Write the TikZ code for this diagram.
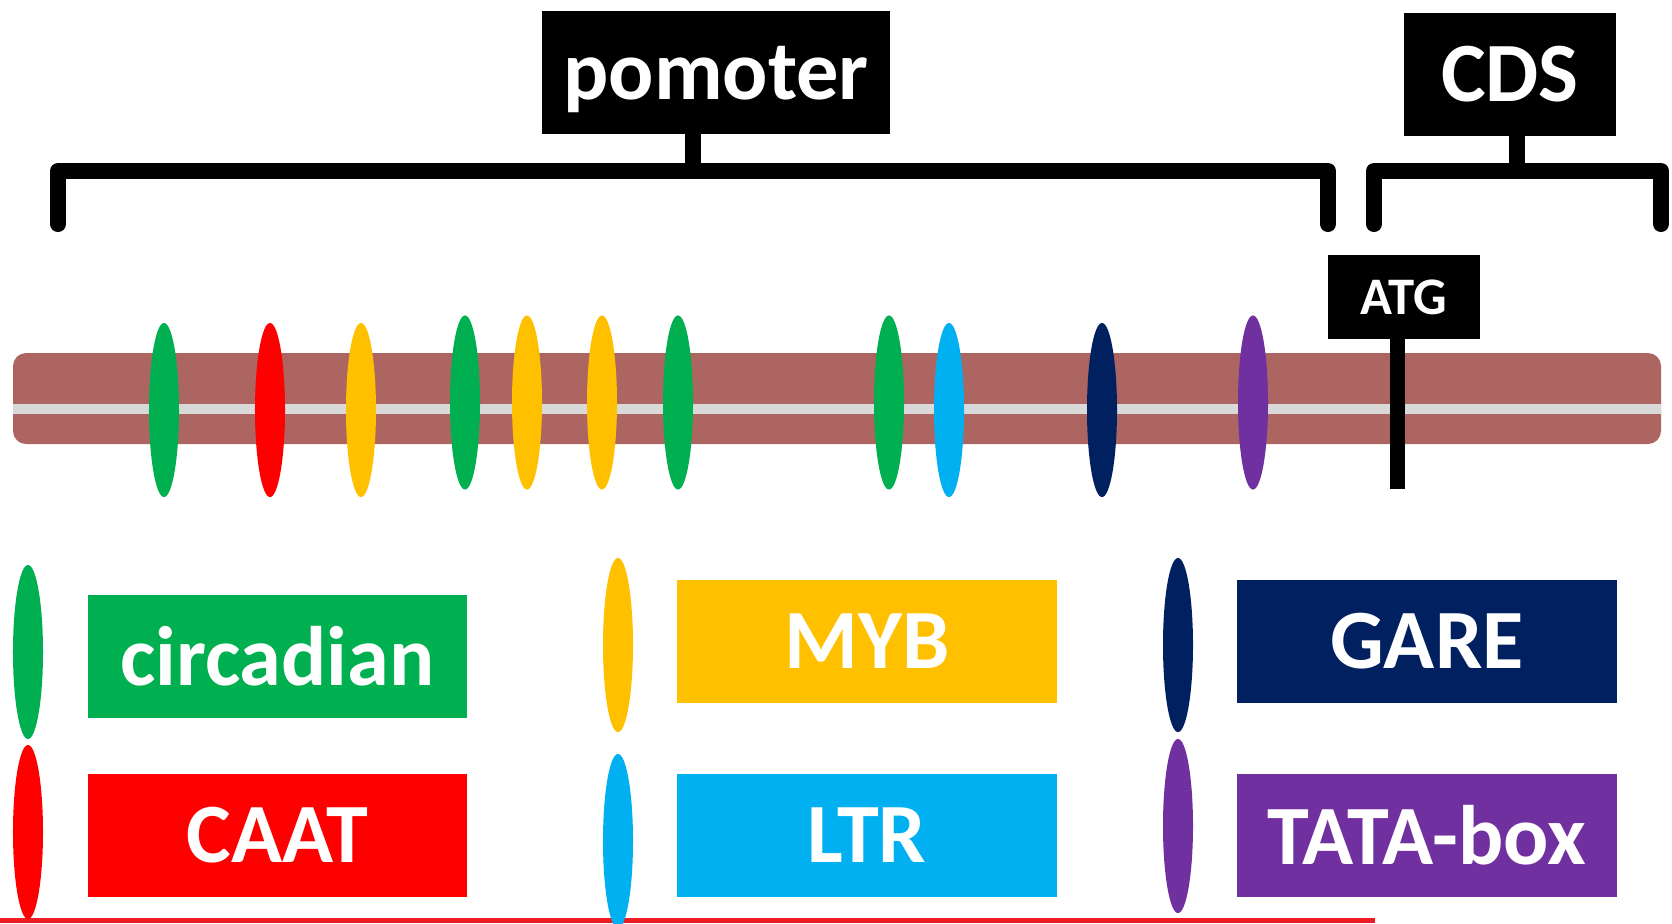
\documentclass[tikz,border=0pt]{standalone}
\usepackage{fontspec}
\setmainfont{Carlito}
\usepackage{tikz}
\usetikzlibrary{shapes.geometric}
\usepackage{xcolor}
\definecolor{xgreen}{HTML}{00B050}
\definecolor{xred}{HTML}{FF0000}
\definecolor{xyellow}{HTML}{FFC000}
\definecolor{xblue}{HTML}{00B0F0}
\definecolor{xnavy}{HTML}{002060}
\definecolor{xpurple}{HTML}{7030A0}
\definecolor{xdna}{HTML}{AD6562}
\definecolor{xgray}{HTML}{D9D9D9}
\definecolor{xline}{HTML}{ED1C24}
\tikzset{
	bracket/.style={line width=0.16cm, line cap=round, line join=round},
	stem/.style={line width=0.16cm},
	tag/.style={fill=black, text=white, inner sep=0pt, outer sep=0pt, minimum height=1.23cm, font=\fontsize{24}{28}\selectfont\bfseries},
	site/.style={ellipse, minimum width=0.3cm, minimum height=1.74cm, inner sep=0pt},
	key/.style={text=white, inner sep=0pt, minimum width=3.79cm, minimum height=1.23cm, font=\fontsize{24}{28}\selectfont\bfseries},
}

\begin{document}
\begin{tikzpicture}[x=0.01cm, y=-0.01cm]
	\useasboundingbox (0,0) rectangle (1672,923);

	% region labels
	\node[tag, minimum width=3.48cm, text depth=0pt] (prom) at (716,72.5) {pomoter};
	\node[tag, minimum width=2.12cm] (cds) at (1510,74.5) {CDS};
	\coordinate (prom_tip) at (693,171);
	\coordinate (cds_tip) at (1517,171);

	\draw[bracket] (58,224) -- (58,171) -- (1328,171) -- (1328,224);
	\draw[bracket] (1374,224) -- (1374,171) -- (1661,171) -- (1661,224);
	\draw[stem] (prom.south -| prom_tip) -- (prom_tip);
	\draw[stem] (cds.south -| cds_tip) -- (cds_tip);

	% dna strand
	\fill[xdna, rounded corners=0.13cm] (13,353) rectangle (1661,444);
	\fill[xgray] (13,404) rectangle (1661,414);

	% elements
	\node[site, fill=xgreen] (s1) at (164,410) {};
	\node[site, fill=xred] (s2) at (270,410) {};
	\node[site, fill=xyellow] (s3) at (361,410) {};
	\node[site, fill=xgreen] (s4) at (465,402.5) {};
	\node[site, fill=xyellow] (s5) at (527,402.5) {};
	\node[site, fill=xyellow] (s6) at (602,402.5) {};
	\node[site, fill=xgreen] (s7) at (678,402.5) {};
	\node[site, fill=xgreen] (s8) at (889,402.5) {};
	\node[site, fill=xblue] (s9) at (949,410) {};
	\node[site, fill=xnavy] (s10) at (1102,410) {};
	\node[site, fill=xpurple] (s11) at (1253,402.5) {};

	% start codon
	\node[tag, minimum width=1.52cm, minimum height=0.84cm, font=\fontsize{15}{18}\selectfont\bfseries] (atg) at (1404,297) {ATG};
	\coordinate (atg_end) at (1397,489);
	\draw[line width=0.15cm] (atg.south -| atg_end) -- (atg_end);

	\fill[xline] (0,918) rectangle (1375,923);

	% legend
	\node[site, fill=xgreen] (k_circ) at (28,652) {};
	\node[site, fill=xred] (k_caat) at (28,832) {};
	\node[site, fill=xyellow] (k_myb) at (618,645) {};
	\node[site, fill=xblue] (k_ltr) at (618,841) {};
	\node[site, fill=xnavy] (k_gare) at (1178,645) {};
	\node[site, fill=xpurple] (k_tata) at (1178,826) {};

	\node[key, fill=xgreen] (circ) at (277.5,656.5) {circadian};
	\node[key, fill=xred] (caat) at (277.5,835.5) {CAAT};
	\node[key, fill=xyellow] (myb) at (867,641.5) {MYB};
	\node[key, fill=xblue] (ltr) at (867,835.5) {LTR};
	\node[key, fill=xnavy] (gare) at (1427,641.5) {GARE};
	\node[key, fill=xpurple] (tata) at (1427,835.5) {TATA-box};
\end{tikzpicture}
\end{document}
